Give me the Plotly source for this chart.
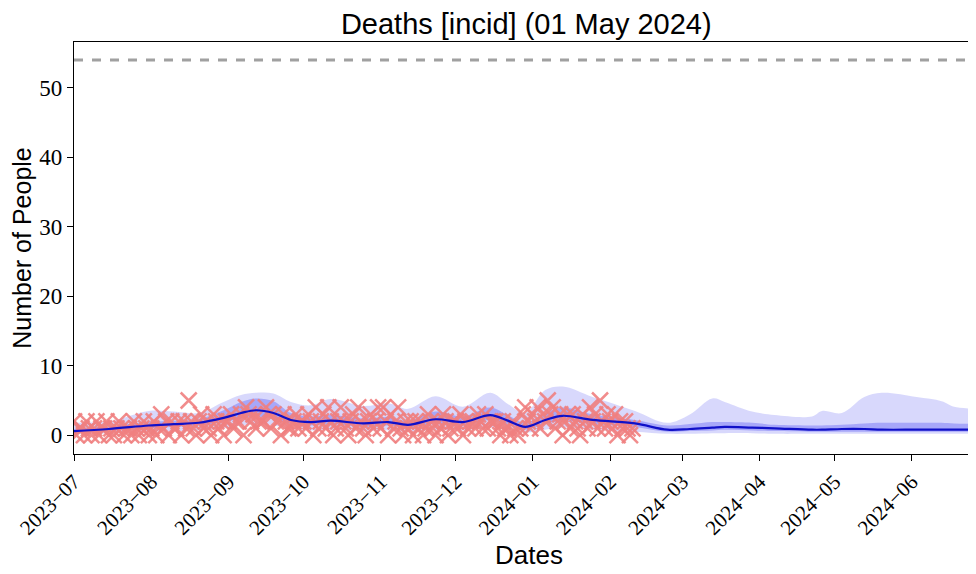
import pandas as pd
import plotly.graph_objects as go

# observed daily deaths (crosses), starting at obs_start
obs_start = "2023-07-01"
obs_values = [
    # Jul
    2, 0, 1, 1, 0, 2, 1, 0, 1, 2, 0, 1, 1, 2, 0, 1, 0, 1, 2, 1, 0, 1, 1, 0, 2, 1, 0, 1, 2, 1, 0,
    # Aug
    1, 2, 0, 1, 3, 1, 2, 0, 2, 1, 1, 2, 0, 2, 1, 5, 2, 1, 0, 2, 3, 1, 2, 1, 0, 3, 2, 1, 2, 0, 2,
    # Sep
    2, 3, 1, 2, 2, 3, 0, 4, 3, 2, 3, 1, 2, 2, 2, 4, 3, 1, 3, 2, 2, 0, 3, 2, 1, 1, 2, 3, 1, 2,
    # Oct
    2, 1, 3, 2, 0, 4, 1, 2, 3, 1, 4, 2, 0, 1, 2, 4, 2, 1, 0, 2, 3, 1, 4, 2, 1, 0, 2, 3, 1, 2, 4,
    # Nov
    1, 4, 2, 0, 3, 1, 2, 4, 1, 0, 2, 1, 2, 0, 2, 1, 2, 0, 1, 3, 2, 1, 0, 2, 1, 3, 2, 0, 1, 2,
    # Dec
    2, 1, 3, 0, 2, 1, 2, 2, 1, 3, 2, 1, 3, 1, 2, 2, 2, 1, 0, 2, 1, 1, 0, 2, 1, 0, 1, 3, 4, 2, 1,
    # Jan
    3, 2, 4, 1, 3, 2, 5, 3, 4, 1, 2, 3, 0, 2, 3, 1, 3, 2, 1, 0, 3, 2, 1, 4, 2, 3, 1, 5, 2, 1, 3,
    # Feb
    2, 1, 3, 0, 2, 1, 2, 1, 0, 1,
]

# model fit: knot dates, median and quantile bands
fit_dates = [
    "2023-07-01", "2023-07-15", "2023-07-31", "2023-08-10", "2023-08-20", "2023-08-30",
    "2023-09-06", "2023-09-12", "2023-09-19", "2023-09-26", "2023-10-04", "2023-10-12",
    "2023-10-25", "2023-11-04", "2023-11-12", "2023-11-23", "2023-12-04", "2023-12-15",
    "2023-12-22", "2023-12-29", "2024-01-06", "2024-01-13", "2024-01-25", "2024-02-11",
    "2024-02-24", "2024-03-04", "2024-03-13", "2024-03-18", "2024-03-29", "2024-04-07",
    "2024-04-22", "2024-04-26", "2024-05-04", "2024-05-13", "2024-05-20", "2024-06-03",
    "2024-06-13", "2024-06-18", "2024-06-30",
]
median = [0.6, 0.9, 1.4, 1.6, 1.8, 2.5, 3.2, 3.6, 3.2, 2.2, 1.9, 2.1, 1.7, 1.9, 1.5, 2.3,
          1.9, 2.9, 2.1, 1.2, 2.2, 2.8, 2.2, 1.7, 0.8, 0.9, 1.1, 1.2, 1.1, 1.0, 0.8, 0.8,
          0.9, 0.9, 0.8, 0.8, 0.8, 0.8, 0.8]
outer_hi = [1.8, 2.0, 3.5, 3.4, 3.2, 4.8, 5.8, 6.1, 6.0, 4.8, 4.3, 5.2, 4.2, 4.6, 3.8, 5.6,
            4.1, 6.1, 4.5, 3.2, 6.5, 7.0, 5.5, 3.5, 1.8, 3.0, 5.3, 4.8, 3.4, 2.9, 2.7, 3.5,
            3.2, 5.5, 6.1, 5.5, 4.9, 4.1, 3.8]
outer_lo = [0.2, 0.3, 0.5, 0.6, 0.7, 1.0, 1.4, 1.6, 1.4, 0.9, 0.7, 0.8, 0.6, 0.7, 0.5, 0.8,
            0.7, 1.1, 0.8, 0.4, 0.8, 1.1, 0.8, 0.5, 0.2, 0.2, 0.3, 0.3, 0.3, 0.2, 0.2, 0.2,
            0.2, 0.2, 0.2, 0.2, 0.2, 0.2, 0.2]
inner_hi = [0.9, 1.3, 1.9, 2.1, 2.3, 3.6, 4.8, 5.3, 4.9, 3.2, 2.7, 2.9, 2.4, 2.6, 2.1, 3.4,
            2.7, 4.0, 2.9, 1.8, 3.2, 4.0, 3.0, 2.2, 1.4, 1.6, 1.9, 1.9, 1.8, 1.5, 1.4, 1.4,
            1.5, 1.7, 1.8, 1.8, 1.8, 1.7, 1.6]
inner_lo = [0.3, 0.6, 1.0, 1.2, 1.4, 1.9, 2.4, 2.7, 2.4, 1.6, 1.4, 1.6, 1.2, 1.4, 1.1, 1.7,
            1.4, 2.2, 1.6, 0.8, 1.6, 2.1, 1.6, 1.2, 0.5, 0.6, 0.7, 0.8, 0.7, 0.6, 0.5, 0.5,
            0.5, 0.5, 0.5, 0.5, 0.5, 0.5, 0.5]

threshold = 54

tick_dates = ["2023-07-01", "2023-08-01", "2023-09-01", "2023-10-01", "2023-11-01",
              "2023-12-01", "2024-01-01", "2024-02-01", "2024-03-01", "2024-04-01",
              "2024-05-01", "2024-06-01"]
tick_text = ["2023−07", "2023−08", "2023−09", "2023−10", "2023−11", "2023−12",
             "2024−01", "2024−02", "2024−03", "2024−04", "2024−05", "2024−06"]

obs_dates = pd.date_range(obs_start, periods=len(obs_values), freq="D")

fig = go.Figure()


def band(lo, hi, color):
    fig.add_trace(go.Scatter(x=fit_dates, y=lo, mode="lines", line=dict(width=0, shape="spline"),
                             showlegend=False, hoverinfo="skip"))
    fig.add_trace(go.Scatter(x=fit_dates, y=hi, mode="lines", line=dict(width=0, shape="spline"),
                             fill="tonexty", fillcolor=color, showlegend=False, hoverinfo="skip"))


band(outer_lo, outer_hi, "rgba(40,40,240,0.18)")
band(inner_lo, inner_hi, "rgba(40,40,240,0.28)")

fig.add_trace(go.Scatter(
    x=obs_dates, y=obs_values, mode="markers",
    marker=dict(symbol="x-thin", size=16, line=dict(color="rgba(240,128,128,0.9)", width=2.5)),
    showlegend=False,
))
fig.add_trace(go.Scatter(x=fit_dates, y=median, mode="lines",
                         line=dict(color="#1010c8", width=2.2, shape="spline"), showlegend=False))

fig.add_hline(y=threshold, line=dict(color="#a0a0a0", width=3, dash="dash"))

# the page body adds an 8px offset, so margins are set 8px smaller on the left/top
fig.update_layout(
    width=976, height=574,
    margin=dict(l=66, r=0, t=34, b=128, autoexpand=False),
    plot_bgcolor="white", paper_bgcolor="white",
    title=dict(text="Deaths [incid] (01 May 2024)", x=0.531, xanchor="center",
               y=1 - 16 / 574, yanchor="middle", yref="container",
               font=dict(family="Liberation Sans", size=29, color="black")),
)
fig.update_xaxes(
    range=["2023-07-01", "2024-06-30"], automargin=False,
    tickvals=tick_dates, ticktext=tick_text, tickangle=-45,
    tickfont=dict(family="Liberation Serif", size=21, color="black"),
    ticks="outside", ticklen=6, tickcolor="black",
    showline=True, linecolor="black", linewidth=1.2, mirror=True, showgrid=False, zeroline=False,
    title=dict(text="Dates", font=dict(family="Liberation Sans", size=26, color="black"), standoff=2),
)
fig.update_yaxes(
    range=[-2.7, 56.6], tickvals=[0, 10, 20, 30, 40, 50], automargin=False,
    tickfont=dict(family="Liberation Serif", size=23, color="black"),
    ticks="outside", ticklen=6, tickcolor="black",
    showline=True, linecolor="black", linewidth=1.2, showgrid=False, zeroline=False,
    title=dict(text="Number of People", font=dict(family="Liberation Sans", size=25, color="black"),
               standoff=4),
)

fig.write_html("out.html")
